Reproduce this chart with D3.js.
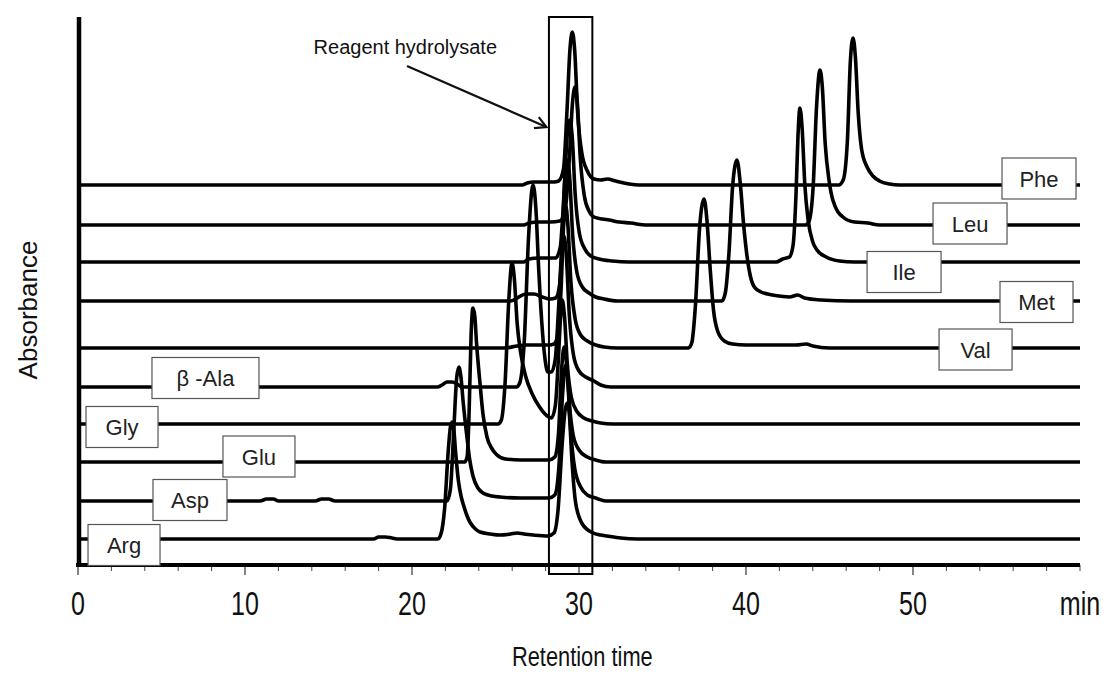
<!DOCTYPE html>
<html><head><meta charset="utf-8">
<script src="https://cdn.jsdelivr.net/npm/d3@7"></script>
<style>
body{margin:0;background:#fff;}
svg{display:block;}
</style></head><body>
<svg id="chart" width="1105" height="673"></svg>
<script>
// ---------------- DATA ----------------
// trace names, bottom to top
const traceNames = ["Arg","Asp","Glu","Gly","β -Ala","Val","Met","Ile","Leu","Phe"];
// baseline offset of each trace (absorbance, arbitrary units)
const baselineOffsets = [26, 64, 103, 141, 178, 217, 264, 303, 340, 380];
// [retention time (min), absorbance above own baseline]
const argData = [[0,0],[17.7,0],[18.0,2],[18.4,2],[18.8,1],[19.2,0],[21.55,0],[21.75,6],[21.95,30],[22.17,88],[22.3,112],[22.4,117],[22.5,110],[22.62,85],[22.78,58],[22.95,42],[23.1,33],[23.3,23],[23.5,16],[23.8,10],[24.07,7],[24.7,5],[25.27,4],[25.9,5],[26.29,6],[26.7,5],[27.25,4],[28.14,3],[28.5,6],[28.75,30],[28.98,92],[29.18,130],[29.3,136],[29.42,125],[29.58,78],[29.8,36],[30.2,15],[30.84,6],[31.3,4],[31.68,3],[32.5,1],[33.5,0],[60,0]];
const aspData = [[0,0],[10.9,0],[11.3,2],[11.7,2],[12.0,0],[14.2,0],[14.6,2],[15.0,2],[15.4,0],[22.1,0],[22.3,12],[22.5,70],[22.68,124],[22.81,134],[22.93,124],[23.07,98],[23.29,64],[23.45,42],[23.65,25],[23.95,13],[24.25,8],[24.8,5],[25.27,4],[26.5,3],[28.2,3],[28.55,6],[28.8,35],[29.02,108],[29.2,136],[29.33,124],[29.5,72],[29.75,32],[30.1,14],[30.5,6],[31.0,3],[31.6,0],[60,0]];
const gluData = [[0,0],[23.15,0],[23.3,5],[23.42,50],[23.54,128],[23.65,154],[23.76,146],[23.86,120],[24.07,79],[24.25,48],[24.49,25],[24.8,13],[25.09,7],[25.6,3],[26.5,2],[28.2,2],[28.55,5],[28.77,28],[28.95,90],[29.1,115],[29.23,102],[29.4,62],[29.65,27],[30.0,12],[30.5,5],[31.0,2],[31.6,0],[60,0]];
const glyData = [[0,0],[25.15,0],[25.35,4],[25.57,40],[25.8,125],[25.99,161],[26.13,145],[26.3,100],[26.5,72],[26.8,48],[27.2,30],[27.6,18],[28.1,8],[28.35,6],[28.58,18],[28.78,70],[28.9,108],[29.0,124],[29.13,108],[29.3,60],[29.55,26],[29.9,12],[30.3,6],[30.8,3],[31.3,1],[32,0],[60,0]];
const balaData = [[0,0],[21.5,0],[21.8,2],[22.1,5],[22.4,5],[22.7,3],[23.0,0],[26.25,0],[26.45,4],[26.72,45],[26.98,150],[27.25,202],[27.42,178],[27.58,120],[27.77,65],[27.95,30],[28.14,15],[28.35,15],[28.58,28],[28.78,80],[28.96,135],[29.1,151],[29.23,134],[29.42,72],[29.67,32],[30.0,16],[30.4,10],[30.9,6],[31.3,2],[31.9,0],[60,0]];
const valData = [[0,0],[25.5,0],[26.3,2],[26.8,3],[27.5,3],[28.2,3],[28.5,4],[28.72,12],[28.93,60],[29.07,120],[29.2,143],[29.33,124],[29.52,65],[29.77,29],[30.1,13],[30.5,7],[31.0,3],[31.5,1],[32.3,0],[36.55,0],[36.75,5],[36.97,42],[37.22,120],[37.49,149],[37.66,128],[37.86,78],[38.06,37],[38.3,17],[38.7,7],[39.2,4],[40.0,3],[42.0,3],[43.0,3],[43.6,4],[44.0,2],[45,0],[60,0]];
const metData = [[0,0],[25.9,0],[26.3,3],[26.8,7],[27.3,7],[27.8,4],[28.3,2],[28.6,3],[28.82,14],[28.98,50],[29.15,122],[29.3,141],[29.44,124],[29.62,66],[29.87,29],[30.2,14],[30.6,8],[31.0,4],[31.5,2],[32.3,0],[38.55,0],[38.76,8],[38.98,48],[39.2,115],[39.46,141],[39.66,117],[39.86,76],[40.06,45],[40.26,25],[40.5,14],[40.9,9],[41.3,7],[42.0,5],[42.6,4],[43.1,6],[43.5,3],[44.5,1],[46.3,0],[60,0]];
const ileData = [[0,0],[26.7,0],[27.0,3],[27.6,4],[28.2,4],[28.6,4],[28.87,14],[29.1,68],[29.3,128],[29.45,142],[29.59,126],[29.77,68],[30.02,29],[30.35,13],[30.7,6],[31.2,3],[32,1],[33,0],[41.8,0],[42.2,3],[42.6,5],[42.82,17],[43.0,70],[43.11,125],[43.23,154],[43.36,134],[43.52,78],[43.72,42],[44.0,20],[44.25,12],[44.8,5],[45.6,1],[46.5,0],[60,0]];
const leuData = [[0,0],[26.7,0],[27.0,2],[27.6,3],[28.3,3],[28.85,4],[29.17,15],[29.42,66],[29.61,122],[29.76,138],[29.9,122],[30.08,66],[30.32,29],[30.6,14],[30.9,8],[31.4,6],[31.8,5],[32.4,3],[33.1,2],[34,0],[43.55,0],[43.76,3],[44.02,38],[44.23,120],[44.43,155],[44.57,138],[44.74,82],[44.97,45],[45.2,25],[45.8,8],[46.5,3],[47.3,2],[48,0],[60,0]];
const pheData = [[0,0],[26.6,0],[26.9,2],[27.3,3],[28.0,3],[28.5,3],[28.78,4],[29.07,16],[29.28,74],[29.46,136],[29.6,153],[29.74,135],[29.92,72],[30.17,32],[30.5,14],[30.9,6],[31.3,5],[31.7,6],[32.2,4],[33.0,1],[33.6,0],[45.55,0],[45.82,5],[46.07,44],[46.25,124],[46.41,147],[46.55,128],[46.72,72],[46.92,36],[47.25,18],[47.6,9],[48.0,4],[48.6,1],[49.2,0],[60,0]];
const traceData = [argData, aspData, gluData, glyData, balaData, valData, metData, ileData, leuData, pheData];

const majorTicks = [0, 10, 20, 30, 40, 50];
const majorTickLabels = ["0", "10", "20", "30", "40", "50"];
const minorTicks = [2,4,6,8,12,14,16,18,22,24,26,28,32,34,36,38,42,44,46,48,52,54,56,58,60];
const xUnitLabel = "min";
const xTitle = "Retention time";
const yTitle = "Absorbance";
const annotationText = "Reagent hydrolysate";

// ---------------- LAYOUT ----------------
const x = d3.scaleLinear().domain([0, 60]).range([78, 1080]);
const y = d3.scaleLinear().domain([0, 548]).range([565, 17]);
// label boxes: left edge (min), width px, vertical shift of box centre from the baseline (px)
const labelLayout = {
  "Arg":   {t: 0.6,  w: 72,  dy: 6},
  "Asp":   {t: 4.49, w: 74,  dy: -1},
  "Glu":   {t: 8.68, w: 72,  dy: -5.5},
  "Gly":   {t: 0.48, w: 72,  dy: 3},
  "β -Ala":{t: 4.43, w: 107, dy: -9},
  "Val":   {t: 51.56,w: 73,  dy: 1.5},
  "Met":   {t: 55.21,w: 73,  dy: 1},
  "Ile":   {t: 47.25,w: 74,  dy: 10},
  "Leu":   {t: 51.2, w: 74,  dy: -1.5},
  "Phe":   {t: 55.33,w: 74,  dy: -6.5}
};
const boxH = 41;
const reagentBox = {t0: 28.2, t1: 30.8, top: 548, bottom: -9};
const arrowFrom = [19.7, 499], arrowTo = [28.05, 438];

const svg = d3.select("#chart");
svg.append("rect").attr("width",1105).attr("height",673).attr("fill","#fff");

const defs = svg.append("defs");
defs.append("marker").attr("id","arr").attr("viewBox","0 0 14 14").attr("refX",12).attr("refY",7)
  .attr("markerWidth",14).attr("markerHeight",14).attr("markerUnits","userSpaceOnUse").attr("orient","auto")
  .append("path").attr("d","M1,1 L12,7 L1,13").attr("fill","none").attr("stroke","#111").attr("stroke-width",2.2);

const line = d3.line().x(d => x(d[0])).y(d => y(d[1])).curve(d3.curveMonotoneX);

const gTraces = svg.append("g");
traceData.forEach((tr, i) => {
  gTraces.append("path")
    .datum(tr.map(p => [p[0], p[1] + baselineOffsets[i]]))
    .attr("d", line)
    .attr("fill", "none").attr("stroke", "#000").attr("stroke-width", 3.6)
    .attr("stroke-linejoin", "round").attr("stroke-linecap","butt");
});

// axes
const axisG = svg.append("g");
axisG.selectAll("line.minor").data(minorTicks).join("line")
  .attr("x1", d => x(d)).attr("x2", d => x(d)).attr("y1", y(0)).attr("y2", y(0) + 6)
  .attr("stroke", "#444").attr("stroke-width", 1);
axisG.selectAll("line.major").data(majorTicks).join("line")
  .attr("x1", d => x(d)).attr("x2", d => x(d)).attr("y1", y(0)).attr("y2", y(0) + 10)
  .attr("stroke", "#333").attr("stroke-width", 1.2);
axisG.append("line").attr("x1", x(0) - 2).attr("x2", x(60)).attr("y1", y(0)).attr("y2", y(0))
  .attr("stroke", "#000").attr("stroke-width", 4);
axisG.append("line").attr("x1", x(0) + 1).attr("x2", x(0) + 1).attr("y1", y(548)).attr("y2", y(0) + 2)
  .attr("stroke", "#000").attr("stroke-width", 4.5);

axisG.selectAll("text.tick").data(majorTicks).join("text")
  .attr("transform", d => `translate(${x(d)},615) scale(0.76,1)`)
  .attr("text-anchor", "middle")
  .style("font-family", "'Liberation Sans', Arial, sans-serif").style("font-size", "33px").attr("fill", "#111")
  .text((d, i) => majorTickLabels[i]);
axisG.append("text").attr("transform", `translate(${x(60)},615) scale(0.76,1)`)
  .attr("text-anchor", "middle")
  .style("font-family", "'Liberation Sans', Arial, sans-serif").style("font-size", "33px").attr("fill", "#111")
  .text(xUnitLabel);
svg.append("text").attr("transform", `translate(${x(30.2)},666) scale(0.78,1)`)
  .attr("text-anchor", "middle")
  .style("font-family", "'Liberation Sans', Arial, sans-serif").style("font-size", "28px").attr("fill", "#111")
  .text(xTitle);
svg.append("text").attr("transform", `translate(37,${y(255)}) rotate(-90)`)
  .attr("text-anchor", "middle")
  .style("font-family", "'Liberation Sans', Arial, sans-serif").style("font-size", "26px").attr("fill", "#111")
  .text(yTitle);

// label boxes
const gLab = svg.append("g");
traceNames.forEach((name, i) => {
  const L = labelLayout[name];
  const cy = y(baselineOffsets[i]) + L.dy;
  const x0 = x(L.t);
  gLab.append("rect").attr("x", x0).attr("y", cy - boxH / 2).attr("width", L.w).attr("height", boxH)
    .attr("fill", "#fff").attr("stroke", "#555").attr("stroke-width", 1.2);
  gLab.append("text").attr("x", x0 + L.w / 2).attr("y", cy + 8).attr("text-anchor", "middle")
    .style("font-family", "'Liberation Sans', Arial, sans-serif").style("font-size", "22px").attr("fill", "#222")
    .text(name);
});

// reagent box + annotation
svg.append("rect").attr("x", x(reagentBox.t0)).attr("y", y(reagentBox.top))
  .attr("width", x(reagentBox.t1) - x(reagentBox.t0)).attr("height", y(reagentBox.bottom) - y(reagentBox.top))
  .attr("fill", "none").attr("stroke", "#000").attr("stroke-width", 2);
svg.append("line").attr("x1", x(arrowFrom[0])).attr("y1", y(arrowFrom[1]))
  .attr("x2", x(arrowTo[0])).attr("y2", y(arrowTo[1]))
  .attr("stroke", "#111").attr("stroke-width", 2.2).attr("marker-end", "url(#arr)");
svg.append("text").attr("x", x(19.6)).attr("y", 54).attr("text-anchor", "middle")
  .style("font-family", "'Liberation Sans', Arial, sans-serif").style("font-size", "20px").attr("fill", "#111")
  .text(annotationText);
</script>
</body></html>
